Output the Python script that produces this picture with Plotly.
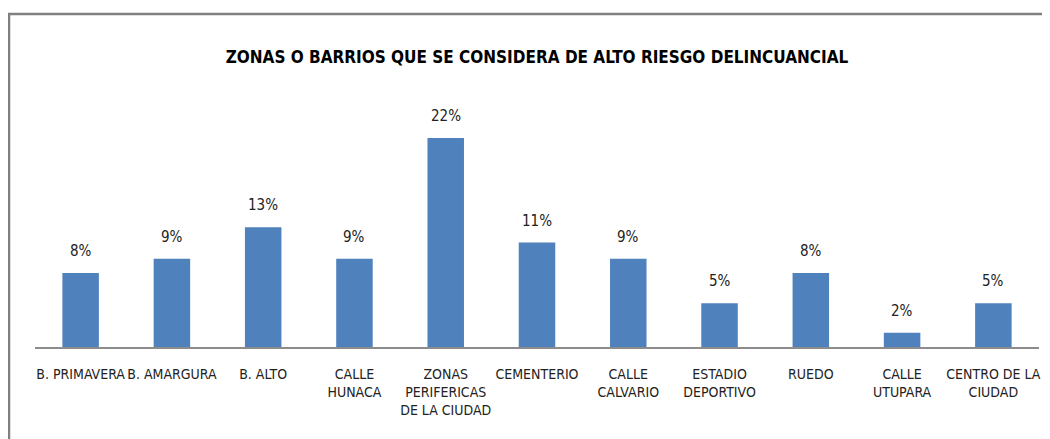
import plotly.graph_objects as go

categories = [
    "B. PRIMAVERA", "B. AMARGURA", "B. ALTO", "CALLE<br>HUNACA",
    "ZONAS<br>PERIFERICAS<br>DE LA CIUDAD", "CEMENTERIO", "CALLE<br>CALVARIO",
    "ESTADIO<br>DEPORTIVO", "RUEDO", "CALLE<br>UTUPARA", "CENTRO DE LA<br>CIUDAD",
]
shares = [0.078, 0.093, 0.126, 0.093, 0.22, 0.11, 0.093, 0.046, 0.078, 0.015, 0.046]

FONT = "DejaVu Sans Condensed, DejaVu Sans"

fig = go.Figure(
    go.Bar(
        x=categories,
        y=shares,
        marker=dict(color="#4F81BD", line=dict(color="#4F81BD", width=0)),
        hovertemplate="%{x}: %{y:.0%}<extra></extra>",
    )
)

# value labels, lifted a bit more than plotly's default outside text
for cat, val in zip(categories, shares):
    fig.add_annotation(
        x=cat, y=val, text=f"{val:.0%}", showarrow=False,
        yanchor="bottom", yshift=11,
        font=dict(family=FONT, size=15, color="#222222"),
    )

# page body adds 8px offset; plot area ends up at x 35..1039, y 100..347 px
fig.add_shape(
    type="rect", xref="paper", yref="paper",
    x0=-0.0259, x1=1.2, y0=-1.0, y1=1.348,
    line=dict(color="#808080", width=2.5), layer="above",
)

fig.update_layout(
    width=1050,
    height=439,
    title=dict(
        text="<b>ZONAS O BARRIOS QUE SE CONSIDERA DE ALTO RIESGO DELINCUANCIAL</b>",
        x=(537 - 8) / 1050, xanchor="center", y=1 - 49 / 439, yanchor="middle",
        xref="container", yref="container",
        font=dict(family=FONT, size=17, color="#000000"),
    ),
    margin=dict(l=27, r=19, t=92, b=100),
    paper_bgcolor="white",
    plot_bgcolor="white",
    bargap=0.6,
    showlegend=False,
    font=dict(family=FONT, size=14, color="#222222"),
)
fig.update_xaxes(
    showline=True, linecolor="#8c8c8c", linewidth=1.5,
    ticks="", showgrid=False, tickangle=0, ticklabelstandoff=13,
    tickfont=dict(family=FONT, size=14, color="#222222"),
)
fig.update_yaxes(visible=False, range=[0, 0.26])

fig.write_html("out.html")
